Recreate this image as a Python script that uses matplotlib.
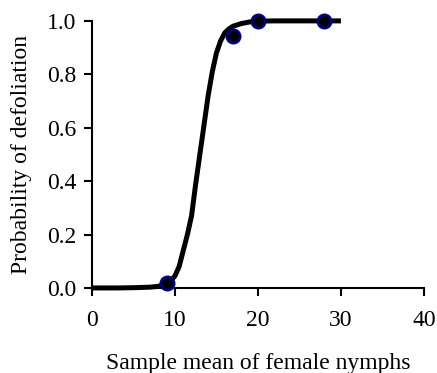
import matplotlib
matplotlib.use("Agg")
import matplotlib.pyplot as plt

plt.rcParams['font.family'] = ['Liberation Serif', 'DejaVu Serif']

# fitted curve
curve_x = [0, 3, 5, 7, 8, 9, 9.5, 10, 10.5, 11, 11.5, 12, 12.5, 13, 13.5, 14, 14.5,
           15, 15.5, 16, 16.5, 17, 18, 19, 20, 22, 25, 30]
curve_y = [0.0, 0.0, 0.001, 0.003, 0.006, 0.018, 0.028, 0.045, 0.08, 0.14, 0.2, 0.27,
           0.39, 0.5, 0.61, 0.72, 0.81, 0.88, 0.925, 0.955, 0.97, 0.98, 0.99, 0.996,
           0.999, 1.0, 1.0, 1.0]

# observed points
obs_x = [9, 17, 20, 28]
obs_y = [0.02, 0.945, 1.0, 1.0]

fig = plt.figure(figsize=(4.37, 3.73), dpi=100)
ax = fig.add_axes([0.2105, 0.228, 0.7595, 0.716])

ax.plot(curve_x, curve_y, color='black', linewidth=3.6, solid_capstyle='butt',
        solid_joinstyle='round', clip_on=False, zorder=2)
ax.plot(obs_x, obs_y, linestyle='none', marker='o', markersize=9.5,
        markerfacecolor='black', markeredgecolor='#000080', markeredgewidth=2,
        clip_on=False, zorder=3)

ax.set_xlim(0, 40)
ax.set_ylim(0, 1)
ax.set_xticks([0, 10, 20, 30, 40])
ax.set_yticks([0.0, 0.2, 0.4, 0.6, 0.8, 1.0])
ax.set_yticklabels(['0.0', '0.2', '0.4', '0.6', '0.8', '1.0'])

for s in ['top', 'right']:
    ax.spines[s].set_visible(False)
for s in ['left', 'bottom']:
    ax.spines[s].set_linewidth(1.5)

ax.tick_params(direction='out', length=6, width=1.5, labelsize=17, pad=10)
ax.tick_params(axis='y', pad=5)

ax.set_xlabel('Sample mean of female nymphs', fontsize=17, labelpad=16)
ax.set_ylabel('Probability of defoliation', fontsize=17, labelpad=11)

fig.savefig('out.png', dpi=100)
